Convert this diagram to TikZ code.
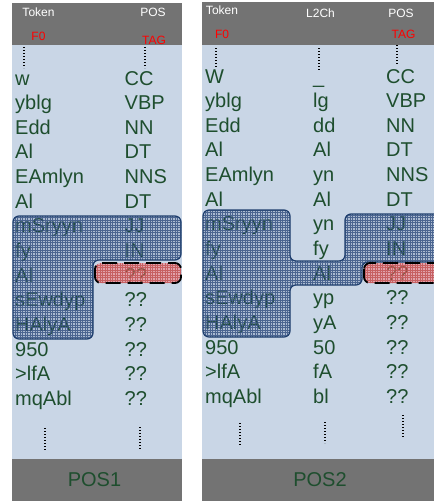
\documentclass[tikz,border=0pt]{standalone}
\usepackage{fontspec}
\setmainfont{Liberation Sans}

\definecolor{bodyblue}{RGB}{201,214,230}
\definecolor{bandgray}{RGB}{115,115,115}
\definecolor{wordgreen}{RGB}{30,78,46}
\definecolor{spanblue}{RGB}{31,63,110}
\definecolor{gridblue}{RGB}{52,80,128}
\definecolor{gridred}{RGB}{192,80,80}

\newcommand\spanApath{(13,216) -- (181,216) -- (181,260) -- (93,260) -- (93,339) -- (13,339) -- cycle}
\newcommand\spanBpath{(203,210) -- (290,210) -- (290,261) -- (345,261) -- (345,214) -- (442,214)
    -- (442,262) -- (362,262) -- (362,285) -- (290,285) -- (290,337) -- (203,337) -- cycle}

\begin{document}
\begin{tikzpicture}[x=1pt, y=-1pt,
    every node/.style={font=\fontsize{20}{24}\selectfont, text=wordgreen, inner sep=0pt},
    head/.style={font=\fontsize{12}{14}\selectfont, text=white},
    feat/.style={font=\fontsize{12}{14}\selectfont, text=red},
    word/.style={anchor=base west},
    dotline/.style={line width=1.3pt, dash pattern=on 1.3pt off 1.7pt},
    bluegrid/.style={step=2.5pt, draw=gridblue, line width=0.45pt, draw opacity=0.8},
    redgrid/.style={step=2.5pt, draw=gridred, line width=0.45pt, draw opacity=0.8},
    spanedge/.style={draw=spanblue, line width=1.2pt, rounded corners=6pt},
    tagedge/.style={draw=black, line width=1.8pt, dash pattern=on 15pt off 7pt, rounded corners=6pt}]
  \useasboundingbox (0,0) rectangle (434,501);

  % panels
  \fill[bodyblue] (12,45) rectangle (182,459);
  \fill[bodyblue] (202,45) rectangle (434,459);
  \fill[bandgray] (12,3) rectangle (182,45);
  \fill[bandgray] (202,2) rectangle (434,45);
  \fill[bandgray] (12,459) rectangle (182,501);
  \fill[bandgray] (202,459) rectangle (434,501);

  % headers
  \node[head] (tokhdA) at (38.5,12) {Token};
  \node[head] (poshdA) at (153,12) {POS};
  \node[feat] (fzA) at (38.5,36) {F0};
  \node[feat] (tagA) at (154,40) {TAG};
  \node[head] (tokhdB) at (222,10) {Token};
  \node[head] (chhdB) at (320.5,13) {L2Ch};
  \node[head] (poshdB) at (401,13) {POS};
  \node[feat] (fzB) at (222,34) {F0};
  \node[feat] (tagB) at (403.5,34) {TAG};

  % rows
  \foreach \w [count=\i from 0] in {w,yblg,Edd,Al,EAmlyn,Al,mSryyn,fy,Al,sEwdyp,HAlyA,950,>lfA,mqAbl}
    \node[word] (tokA\i) at (15,85+24.65*\i) {\w};
  \foreach \t [count=\i from 0] in {CC,VBP,NN,DT,NNS,DT,JJ,IN,??,??,??,??,??,??}
    \node[word] (posA\i) at (124.5,85+24.65*\i) {\t};
  \foreach \w [count=\i from 0] in {W,yblg,Edd,Al,EAmlyn,Al,mSryyn,fy,Al,sEwdyp,HAlyA,950,>lfA,mqAbl}
    \node[word] (tokB\i) at (205,83+24.65*\i) {\w};
  \foreach \c [count=\i from 0] in {\_,lg,dd,Al,yn,Al,yn,fy,Al,yp,yA,50,fA,bl}
    \node[word] (chB\i) at (313,83+24.65*\i) {\c};
  \foreach \t [count=\i from 0] in {CC,VBP,NN,DT,NNS,DT,JJ,IN,??,??,??,??,??,??}
    \node[word] (posB\i) at (386,83+24.65*\i) {\t};

  % context spans (hatched over the words)
  \begin{scope}
    \clip[rounded corners=6pt] \spanApath;
    \fill[gridblue, fill opacity=0.2] (0,200) rectangle (200,350);
    \draw[bluegrid] (0,200) grid (200,350);
  \end{scope}
  \draw[spanedge] \spanApath;
  \begin{scope}
    \clip[rounded corners=6pt] \spanBpath;
    \fill[gridblue, fill opacity=0.2] (200,200) rectangle (450,350);
    \draw[bluegrid] (200,200) grid (450,350);
  \end{scope}
  \draw[spanedge] \spanBpath;

  % target tags
  \begin{scope}
    \clip[rounded corners=6pt] (95,263) rectangle (181,283);
    \fill[red!60!white, fill opacity=0.45] (90,260) rectangle (190,290);
    \draw[redgrid] (90,260) grid (190,290);
  \end{scope}
  \draw[tagedge] (95,263) rectangle (181,283);
  \begin{scope}
    \clip[rounded corners=6pt] (364,263) rectangle (445,283);
    \fill[red!60!white, fill opacity=0.45] (360,260) rectangle (450,290);
    \draw[redgrid] (360,260) grid (450,290);
  \end{scope}
  \draw[tagedge] (364,263) rectangle (445,283);

  % ellipses
  \draw[dotline] (24,47) -- (24,68);
  \draw[dotline] (145,47) -- (145,68);
  \draw[dotline] (45,428) -- (45,450);
  \draw[dotline] (140,427) -- (140,449);
  \draw[dotline] (216,48) -- (216,67);
  \draw[dotline] (319,48) -- (319,70);
  \draw[dotline] (397,45) -- (397,65);
  \draw[dotline] (240,423) -- (240,446);
  \draw[dotline] (325,422) -- (325,443);
  \draw[dotline] (403,415) -- (403,437);

  % footers
  \node (namA) at (94.5,479.5) {POS1};
  \node (namB) at (320,479.5) {POS2};
\end{tikzpicture}
\end{document}
